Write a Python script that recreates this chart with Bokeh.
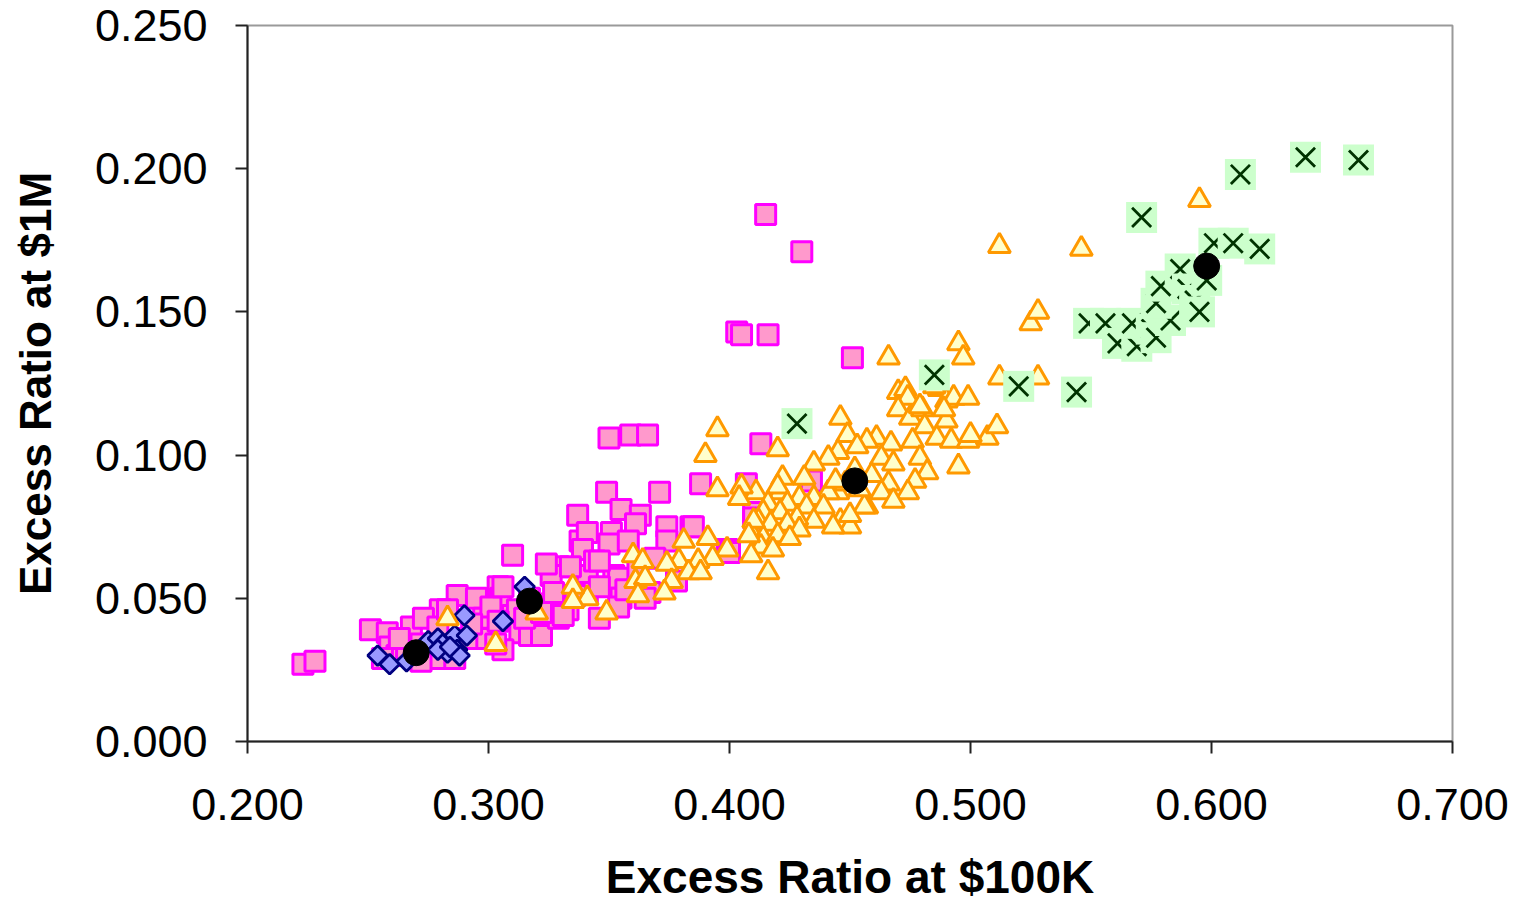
from bokeh.plotting import figure
from bokeh.models import Range1d, FixedTicker, NumeralTickFormatter, ColumnDataSource
from bokeh.embed import file_html
from bokeh.resources import INLINE
import numpy as np

# ---------------- data ----------------
pink_x = [0.223, 0.228, 0.251, 0.258, 0.268, 0.259, 0.262, 0.256, 0.287, 0.295,
          0.280, 0.273, 0.279, 0.304, 0.305, 0.297, 0.298, 0.310, 0.313, 0.317,
          0.280, 0.272, 0.266, 0.306, 0.291, 0.301, 0.322, 0.303, 0.283, 0.312,
          0.322, 0.333, 0.329, 0.315, 0.304, 0.310, 0.329, 0.326, 0.306, 0.338,
          0.341, 0.352, 0.349, 0.371, 0.388, 0.407, 0.337, 0.355, 0.363, 0.361,
          0.351, 0.341, 0.374, 0.384, 0.339, 0.350, 0.358, 0.374, 0.369, 0.334,
          0.344, 0.354, 0.362, 0.327, 0.341, 0.355, 0.346, 0.378, 0.399, 0.410,
          0.322, 0.331, 0.324, 0.367, 0.354, 0.415, 0.430, 0.403, 0.405, 0.416,
          0.451, 0.350, 0.359, 0.366, 0.413, 0.434, 0.385, 0.400, 0.410, 0.346,
          0.357, 0.336, 0.365, 0.346, 0.317, 0.293, 0.286, 0.272, 0.263]
pink_y = [0.027, 0.028, 0.039, 0.038, 0.040, 0.033, 0.030, 0.029, 0.051, 0.050,
          0.046, 0.043, 0.040, 0.054, 0.050, 0.036, 0.043, 0.044, 0.038, 0.037,
          0.029, 0.028, 0.031, 0.032, 0.036, 0.047, 0.037, 0.034, 0.046, 0.046,
          0.048, 0.046, 0.043, 0.043, 0.042, 0.065, 0.061, 0.058, 0.054, 0.070,
          0.058, 0.058, 0.087, 0.087, 0.090, 0.090, 0.079, 0.081, 0.079, 0.076,
          0.073, 0.073, 0.075, 0.075, 0.067, 0.069, 0.070, 0.070, 0.064, 0.061,
          0.063, 0.057, 0.060, 0.052, 0.052, 0.050, 0.054, 0.056, 0.067, 0.080,
          0.045, 0.044, 0.062, 0.052, 0.047, 0.184, 0.171, 0.143, 0.142, 0.142,
          0.134, 0.106, 0.107, 0.107, 0.104, 0.091, 0.075, 0.066, 0.078, 0.063,
          0.053, 0.051, 0.050, 0.043, 0.050, 0.041, 0.029, 0.034, 0.036]

blue_x = [0.254, 0.259, 0.266, 0.275, 0.279, 0.281, 0.283, 0.286, 0.291, 0.287,
          0.288, 0.290, 0.306, 0.315, 0.279, 0.284]
blue_y = [0.030, 0.027, 0.028, 0.035, 0.036, 0.034, 0.031, 0.037, 0.037, 0.032,
          0.030, 0.044, 0.042, 0.054, 0.032, 0.033]

orange_x = [0.495, 0.497, 0.466, 0.525, 0.528, 0.512, 0.528, 0.487, 0.470, 0.473,
            0.474, 0.446, 0.395, 0.390, 0.420, 0.449, 0.461, 0.470, 0.475, 0.480,
            0.481, 0.490, 0.493, 0.499, 0.490, 0.486, 0.492, 0.499, 0.507, 0.511,
            0.495, 0.467, 0.476, 0.479, 0.482, 0.477, 0.474, 0.457, 0.453, 0.463,
            0.468, 0.466, 0.463, 0.457, 0.445, 0.441, 0.435, 0.431, 0.422, 0.445,
            0.441, 0.435, 0.429, 0.421, 0.420, 0.411, 0.405, 0.404, 0.395, 0.416,
            0.424, 0.432, 0.439, 0.446, 0.450, 0.443, 0.435, 0.428, 0.421, 0.414,
            0.412, 0.417, 0.424, 0.429, 0.409, 0.414, 0.420, 0.425, 0.413, 0.418,
            0.409, 0.416, 0.399, 0.391, 0.393, 0.381, 0.387, 0.456, 0.500, 0.410,
            0.408, 0.379, 0.374, 0.360, 0.364, 0.361, 0.365, 0.376, 0.383, 0.388,
            0.362, 0.373, 0.341, 0.349, 0.335, 0.335, 0.320, 0.283, 0.303, 0.512,
            0.546, 0.595, 0.485, 0.521, 0.489, 0.479, 0.468, 0.450, 0.448, 0.454,
            0.459, 0.444, 0.452]
orange_y = [0.139, 0.134, 0.134, 0.146, 0.150, 0.127, 0.127, 0.123, 0.122, 0.123,
            0.120, 0.113, 0.109, 0.100, 0.102, 0.107, 0.106, 0.116, 0.113, 0.116,
            0.110, 0.119, 0.120, 0.120, 0.112, 0.106, 0.105, 0.105, 0.106, 0.110,
            0.096, 0.104, 0.105, 0.099, 0.094, 0.091, 0.087, 0.105, 0.103, 0.099,
            0.097, 0.090, 0.087, 0.082, 0.101, 0.099, 0.097, 0.092, 0.092, 0.087,
            0.087, 0.085, 0.085, 0.087, 0.089, 0.087, 0.089, 0.085, 0.088, 0.083,
            0.083, 0.082, 0.082, 0.077, 0.075, 0.075, 0.077, 0.078, 0.080, 0.080,
            0.077, 0.076, 0.076, 0.074, 0.073, 0.071, 0.072, 0.071, 0.068, 0.067,
            0.065, 0.059, 0.067, 0.071, 0.064, 0.070, 0.063, 0.082, 0.107, 0.077,
            0.072, 0.063, 0.062, 0.065, 0.063, 0.056, 0.057, 0.056, 0.059, 0.059,
            0.051, 0.052, 0.050, 0.045, 0.054, 0.049, 0.045, 0.043, 0.034, 0.173,
            0.172, 0.189, 0.124, 0.122, 0.116, 0.117, 0.084, 0.079, 0.090, 0.088,
            0.093, 0.091, 0.095]

green_x = [0.428, 0.485, 0.520, 0.544, 0.549, 0.556, 0.561, 0.569, 0.567, 0.575,
           0.577, 0.583, 0.577, 0.571, 0.579, 0.587, 0.590, 0.593, 0.595, 0.598,
           0.601, 0.609, 0.620, 0.612, 0.639, 0.661]
green_y = [0.111, 0.128, 0.124, 0.122, 0.146, 0.146, 0.139, 0.138, 0.146, 0.144,
           0.141, 0.147, 0.153, 0.183, 0.159, 0.165, 0.158, 0.154, 0.150, 0.161,
           0.174, 0.174, 0.172, 0.198, 0.204, 0.203]

mean_x = [0.270, 0.317, 0.452, 0.598]
mean_y = [0.031, 0.049, 0.091, 0.166]

x_ticks = [0.2, 0.3, 0.4, 0.5, 0.6, 0.7]
y_ticks = [0.0, 0.05, 0.10, 0.15, 0.20, 0.25]

# ---------------- figure ----------------
p = figure(width=1520, height=905, output_backend="svg", toolbar_location=None,
           x_range=Range1d(0.2, 0.7), y_range=Range1d(0.0, 0.25),
           min_border_left=247, min_border_right=68, min_border_top=25,
           min_border_bottom=163)

p.grid.visible = False
p.background_fill_color = "white"
p.border_fill_color = "white"
p.outline_line_color = "#9a9a9a"
p.outline_line_width = 2

FONT = "Liberation Sans"
for ax in (p.xaxis[0], p.yaxis[0]):
    ax.axis_line_color = "#222222"
    ax.axis_line_width = 2
    ax.major_tick_line_color = "#222222"
    ax.major_tick_line_width = 2
    ax.major_tick_out = 12
    ax.major_tick_in = 0
    ax.minor_tick_out = 0
    ax.minor_tick_in = 0
    ax.major_label_text_font = FONT
    ax.major_label_text_font_size = "45px"
    ax.major_label_text_color = "black"
    ax.axis_label_text_font = FONT
    ax.axis_label_text_font_style = "bold"
    ax.axis_label_text_color = "black"
    ax.formatter = NumeralTickFormatter(format="0.000")

p.xaxis[0].ticker = FixedTicker(ticks=x_ticks)
p.yaxis[0].ticker = FixedTicker(ticks=y_ticks)
p.xaxis[0].major_label_standoff = 35
p.yaxis[0].major_label_standoff = 28
p.xaxis[0].axis_label = "Excess Ratio at $100K"
p.yaxis[0].axis_label = "Excess Ratio at $1M"
p.xaxis[0].axis_label_text_font_size = "46px"
p.yaxis[0].axis_label_text_font_size = "44px"
p.xaxis[0].axis_label_standoff = 28
p.yaxis[0].axis_label_standoff = 32

# pink squares
p.scatter(x="x", y="y", source=ColumnDataSource(dict(x=pink_x, y=pink_y)),
          marker="square", size=20, fill_color="#FF99CC", line_color="#FF00FF",
          line_width=3)
# blue diamonds
p.scatter(x="x", y="y", source=ColumnDataSource(dict(x=blue_x, y=blue_y)),
          marker="square", angle=np.pi / 4, size=14, fill_color="#9999FF",
          line_color="#000080", line_width=2.8)
# orange triangles
p.scatter(x="x", y="y", source=ColumnDataSource(dict(x=orange_x, y=orange_y)),
          marker="triangle", size=22, fill_color="#FFFFCC", line_color="#FF9900",
          line_width=3)
# green x markers with square background (drawn point by point)
for gx, gy in zip(green_x, green_y):
    p.scatter(x=[gx], y=[gy], marker="square", size=31, fill_color="#CCFFCC",
              line_color=None)
    p.scatter(x=[gx], y=[gy], marker="x", size=27, line_color="#003300",
              line_width=2.8)
# black means
p.scatter(x="x", y="y", source=ColumnDataSource(dict(x=mean_x, y=mean_y)),
          marker="circle", size=26, fill_color="black", line_color="black")

open("out.html", "w").write(file_html(p, INLINE))
